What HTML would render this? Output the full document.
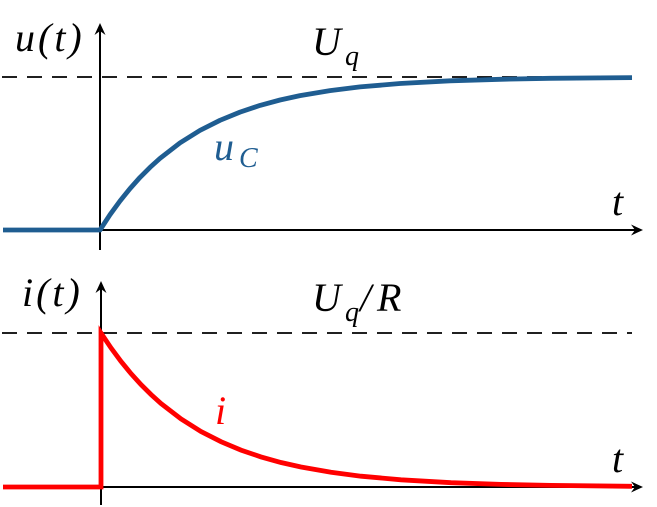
<!DOCTYPE html>
<html>
<head>
<meta charset="utf-8">
<style>
html,body{margin:0;padding:0;background:#fff;}
svg{display:block;}
text{font-family:"Liberation Serif",serif;font-style:italic;}
</style>
</head>
<body>
<svg width="657" height="507" viewBox="0 0 657 507" xmlns="http://www.w3.org/2000/svg">
<!-- TOP PLOT -->
<line x1="2" y1="77" x2="632" y2="77" stroke="#000" stroke-width="1.8" stroke-dasharray="15 10"/>
<line x1="100" y1="250" x2="100" y2="30" stroke="#000" stroke-width="2"/>
<path d="M100,23 L94.5,35 L100,31 L105.5,35 Z" fill="#000"/>
<line x1="100" y1="230" x2="636" y2="230" stroke="#000" stroke-width="2"/>
<path d="M643,230 L631,224.5 L635,230 L631,235.5 Z" fill="#000"/>
<polyline fill="none" stroke="#1f5d91" stroke-width="4.8" stroke-linejoin="round" stroke-linecap="butt"
points="3,230 100,230 110,214.7 120,201.0 130,188.6 140,177.4 150,167.4 160,158.4 180,142.9 200,130.4 220,120.3 240,112.1 260,105.4 280,100.0 300,95.6 330,90.6 360,86.9 400,83.5 450,80.8 500,79.3 550,78.3 632,77.6"/>
<text x="15" y="51" font-size="40" letter-spacing="3">u(t)</text>
<text x="312" y="55" font-size="40">U</text>
<text x="345" y="65" font-size="28">q</text>
<text x="612" y="215" font-size="40">t</text>
<text x="214" y="160" font-size="40" fill="#1f5d91">u</text>
<text x="239" y="167" font-size="28" fill="#1f5d91">C</text>

<!-- BOTTOM PLOT -->
<line x1="2" y1="333" x2="632" y2="333" stroke="#000" stroke-width="1.8" stroke-dasharray="15 10"/>
<line x1="101" y1="505" x2="101" y2="288" stroke="#000" stroke-width="2"/>
<path d="M101,281 L95.5,293 L101,289 L106.5,293 Z" fill="#000"/>
<line x1="101" y1="487" x2="636" y2="487" stroke="#000" stroke-width="2"/>
<path d="M643,487 L631,481.5 L635,487 L631,492.5 Z" fill="#000"/>
<polyline fill="none" stroke="#ff0000" stroke-width="4.8" stroke-linejoin="miter" stroke-linecap="butt"
points="3,487 101,487 101,333 111,347.9 121,361.4 131,373.6 141,384.6 151,394.5 161,403.5 181,418.9 201,431.5 221,441.7 241,450.1 261,456.9 281,462.5 301,467.0 331,472.3 361,476.2 401,479.8 451,482.7 501,484.4 551,485.4 632,486.3"/>
<text x="22" y="306" font-size="40" letter-spacing="3">i(t)</text>
<text x="312" y="311" font-size="40">U</text>
<text x="345" y="321" font-size="28">q</text>
<text x="360" y="311" font-size="40">/</text>
<text x="377" y="311" font-size="40">R</text>
<text x="215" y="424" font-size="40" fill="#ff0000">i</text>
<text x="612" y="472" font-size="40">t</text>
</svg>
</body>
</html>
